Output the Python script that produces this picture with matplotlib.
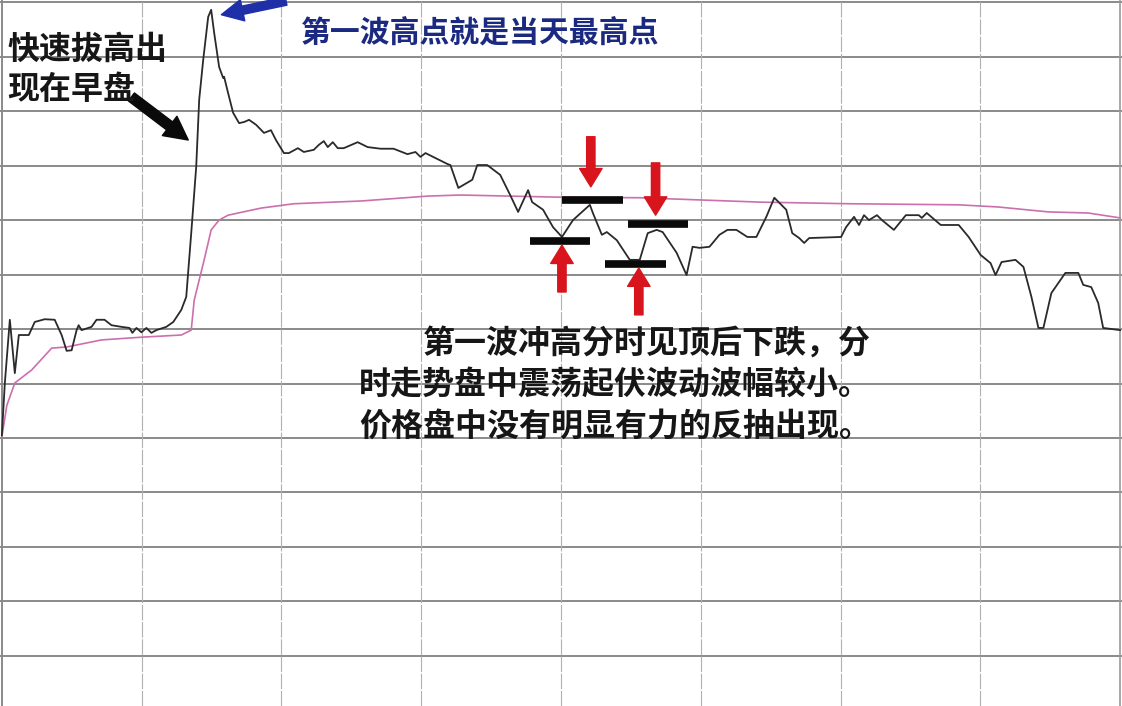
import numpy as np
import matplotlib
matplotlib.use('Agg')
import matplotlib.pyplot as plt

plt.rcParams['font.family'] = ['Noto Sans CJK SC', 'DejaVu Sans']
plt.rcParams['axes.unicode_minus'] = False

# ---- 分时数据 (分钟, 涨跌幅 %) ----
price_t = [0, 0.64, 1.71, 2.78, 3.64, 5.78, 7.06, 9.20, 11.34, 12.83, 13.90, 14.97,
           16.04, 16.47, 17.11, 19.25, 20.32, 22.03, 23.53, 25.67, 27.38, 28.02, 28.88,
           29.95, 31.02, 32.09, 33.16, 35.29, 36.79, 38.50, 39.57, 40.64, 41.71, 42.35,
           43.21, 44.28, 44.92, 45.56, 46.63, 47.49, 47.70, 48.56, 49.63, 50.91, 51.98,
           53.05, 54.55, 56.26, 57.75, 58.82, 60.53, 61.60, 63.53, 64.81, 66.95, 68.02,
           69.09, 69.95, 71.02, 72.09, 73.37, 76.36, 78.50, 81.28, 84.06, 87.06, 88.77,
           89.84, 90.91, 93.48, 95.61, 96.26, 97.97, 100.96, 102.03, 104.17, 106.95,
           109.09, 110.80, 112.94, 113.80, 116.15, 118.29, 120.21, 122.57, 126.20,
           126.84, 128.77, 129.84, 131.98, 134.76, 136.90, 138.61, 140.53, 141.82,
           144.81, 146.95, 148.24, 149.73, 151.87, 154.01, 155.72, 157.65, 160.00,
           161.93, 164.07, 165.78, 168.34, 169.63, 171.12, 172.19, 173.26, 180.11,
           181.18, 182.89, 183.96, 185.03, 186.10, 187.81, 188.88, 191.44, 194.01,
           196.79, 197.43, 198.50, 201.50, 205.35, 207.49, 210.06, 212.19, 213.26,
           214.55, 217.54, 219.25, 220.96, 222.46, 223.53, 225.24, 228.24, 231.02,
           232.09, 233.80, 235.29, 236.36, 240.00]
price_v = [-1.95, -0.99, 0.17, -0.81, -0.11, -0.11, 0.13, 0.18, 0.17, -0.11, -0.40, -0.39,
           -0.02, 0.07, -0.02, 0.04, 0.17, 0.17, 0.07, 0.04, 0.02, -0.07, 0.02,
           -0.06, 0.02, -0.07, -0.02, 0.04, 0.13, 0.35, 0.59, 1.76, 2.98, 4.21,
           4.94, 5.73, 5.86, 5.44, 4.81, 4.61, 4.63, 4.33, 3.97, 3.78, 3.80,
           3.84, 3.75, 3.60, 3.65, 3.47, 3.23, 3.23, 3.32, 3.25, 3.29, 3.38,
           3.45, 3.34, 3.43, 3.32, 3.32, 3.43, 3.34, 3.31, 3.31, 3.21, 3.25,
           3.16, 3.23, 3.12, 3.03, 3.01, 2.59, 2.74, 3.01, 3.01, 2.83,
           2.46, 2.15, 2.55, 2.33, 2.19, 1.87, 1.69, 2.00, 2.28,
           2.13, 1.73, 1.78, 1.63, 1.27, 1.27, 1.76, 1.82, 1.78,
           1.40, 0.99, 1.51, 1.49, 1.51, 1.73, 1.82, 1.82, 1.69,
           1.69, 2.06, 2.41, 2.19, 1.76, 1.67, 1.58, 1.67, 1.69,
           1.87, 2.06, 1.91, 2.09, 2.00, 2.09, 2.00, 1.82, 2.09,
           2.09, 2.04, 2.13, 1.91, 1.91, 1.69, 1.36, 1.21, 0.99,
           1.23, 1.27, 1.14, 0.59, 0.02, 0.02, 0.66, 1.03, 1.03,
           0.81, 0.77, 0.48, 0.02, -0.02]

# 均价线
avg_t = [0, 1.07, 2.78, 6.42, 10.70, 13.90, 21.39, 29.95, 38.50, 40.64, 41.28, 43.42,
         44.92, 46.63, 48.56, 55.61, 62.67, 77.01, 91.34, 98.40, 119.79, 136.90,
         162.57, 181.82, 205.35, 213.90, 224.60, 233.16, 240.00]
avg_v = [-1.98, -1.40, -0.99, -0.75, -0.35, -0.33, -0.20, -0.15, -0.11, -0.02, 0.53, 1.27,
         1.82, 2.00, 2.09, 2.22, 2.30, 2.35, 2.44, 2.46, 2.42, 2.41,
         2.33, 2.30, 2.28, 2.24, 2.15, 2.13, 2.04]

# 标记横条 (起点, 终点, 水平)
bar_start = [113.4, 120.2, 129.4, 134.3]
bar_end = [126.2, 133.3, 142.5, 147.2]
bar_level = [1.62, 2.37, 1.19, 1.93]

# 红色箭头 (x, 尾部, 箭头尖)
red_x = [120.2, 126.4, 140.3, 136.7]
red_tail = [0.68, 3.53, 3.05, 0.26]
red_tip = [1.54, 2.61, 2.09, 1.12]

fig = plt.figure(figsize=(11.22, 7.06), dpi=100)
ax = fig.add_axes([0, 0, 1, 1])
ax.set_facecolor('#fcfdff')
ax.set_xlim(-0.4, 240.4)
ax.set_ylim(-6.92, 6.04)
ax.axis('off')

for k in range(-6, 7):
    ax.axhline(k, color='#8a8a8a', lw=1.4, zorder=1)
for m in range(30, 240, 30):
    ax.axvline(m, color='#b0b0b0', lw=0.8, ls=(0, (14, 1.5)), zorder=1)
ax.axvline(0, color='#8a8a8a', lw=1.4, zorder=1)
ax.axvline(240, color='#9a9a9a', lw=1.2, zorder=1)

ax.plot(avg_t, avg_v, color='#cc6fae', lw=1.2, zorder=3)
ax.plot(price_t, price_v, color='#2a2a2a', lw=1.3, zorder=4)

for s, e, lv in zip(bar_start, bar_end, bar_level):
    ax.plot([s, e], [lv, lv], color='#0a0a0a', lw=5.5, solid_capstyle='butt', zorder=5)

for x, t0, t1 in zip(red_x, red_tail, red_tip):
    ax.annotate('', xy=(x, t1), xytext=(x, t0),
                arrowprops=dict(arrowstyle='simple,head_length=1.1,head_width=1.35,tail_width=0.5',
                                mutation_scale=12, color='#d8141c', shrinkA=0, shrinkB=0), zorder=6)

# 蓝色箭头 指向最高点
ax.annotate('', xy=(47.1, 5.77), xytext=(61.0, 6.02),
            arrowprops=dict(arrowstyle='simple,head_length=1.3,head_width=1.3,tail_width=0.5',
                            mutation_scale=12, color='#1e2fa8', shrinkA=0, shrinkB=0), zorder=6)

# 黑色箭头
ax.annotate('', xy=(40.0, 3.47), xytext=(27.8, 4.26),
            arrowprops=dict(arrowstyle='simple,head_length=1.4,head_width=1.45,tail_width=0.6',
                            mutation_scale=12, color='#0a0a0a', shrinkA=0, shrinkB=0), zorder=6)

txt = dict(fontsize=23, fontweight='bold', color='#161616', va='center', ha='left', zorder=7)
ax.text(1.1, 5.12, '快速拔高出', **txt)
ax.text(1.1, 4.39, '现在早盘', **txt)

ax.text(64.2, 5.44, '第一波高点就是当天最高点', fontsize=21.5, fontweight='bold',
        color='#1b2a80', va='center', ha='left', zorder=7)

ax.text(76.6 + 13.7, -0.26, '第一波冲高分时见顶后下跌，分', **txt)
ax.text(76.6, -1.03, '时走势盘中震荡起伏波动波幅较小。', **txt)
ax.text(76.6, -1.80, '价格盘中没有明显有力的反抽出现。', **txt)

fig.savefig('out.png', dpi=100)
